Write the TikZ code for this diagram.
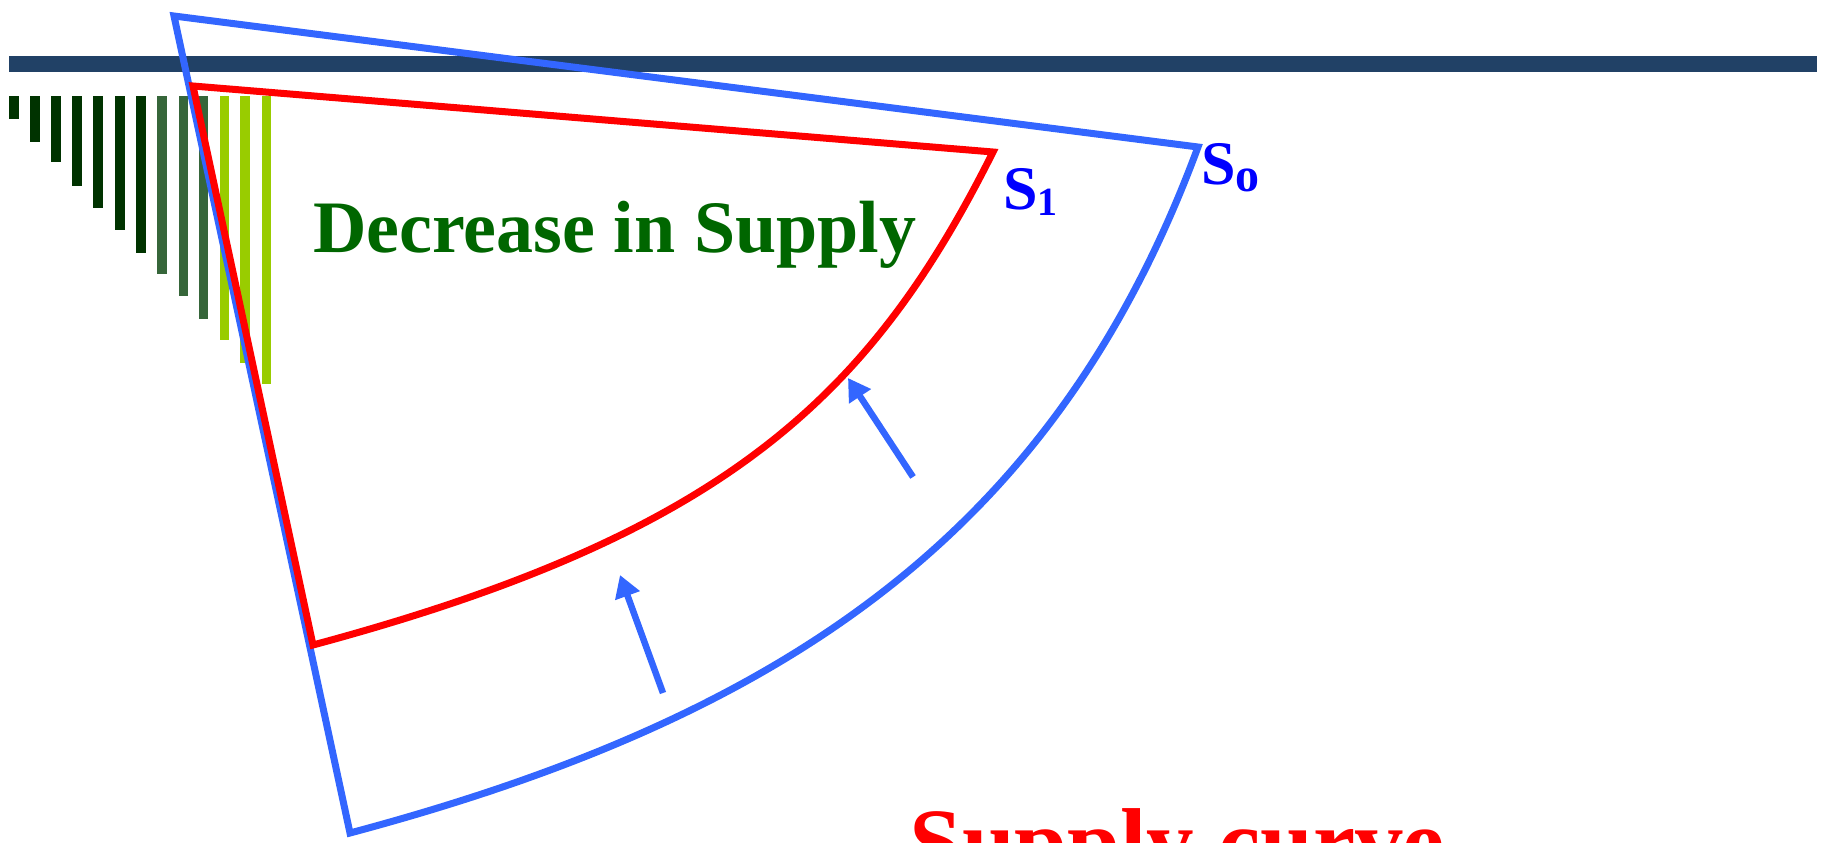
\documentclass[tikz,border=0pt]{standalone}
\usepackage{fontspec}
\setmainfont{Liberation Serif}
\usetikzlibrary{arrows.meta}
\definecolor{barblue}{RGB}{33,65,102}
\definecolor{lineblue}{RGB}{51,102,255}
\definecolor{textgreen}{RGB}{0,102,0}
\definecolor{gdark}{RGB}{0,51,0}
\definecolor{gmid}{RGB}{54,102,58}
\definecolor{glight}{RGB}{153,204,0}

\begin{document}
\begin{tikzpicture}[x=1pt, y=-1pt]
\tikzstyle{s0line}=[draw=lineblue, line width=7pt, line join=miter]
\tikzstyle{s1line}=[draw=red, line width=7pt, line join=miter]
\tikzstyle{shiftarrow}=[lineblue, line width=6.5pt, -{Triangle[length=22pt, width=25pt]}]
\tikzstyle{lbl}=[text=blue, inner sep=0pt, anchor=base west, font=\bfseries\fontsize{62}{62}\selectfont]
\useasboundingbox (0,0) rectangle (1839,843);
\fill[barblue] (9,56) rectangle (1817,72);
% shaded bars
\fill[gdark] (9,96) rectangle (19,119); \fill[gdark] (30,96) rectangle (40,142); \fill[gdark] (51,96) rectangle (61,162); \fill[gdark] (72,96) rectangle (82,186);
\fill[gdark] (93,96) rectangle (103,208); \fill[gdark] (115,96) rectangle (125,230); \fill[gdark] (136,96) rectangle (146,253);
\fill[gmid] (157,96) rectangle (167,274); \fill[gmid] (179,96) rectangle (188,296); \fill[gmid] (199,96) rectangle (208,319);
\fill[glight] (220,96) rectangle (229,340); \fill[glight] (240,96) rectangle (250,363); \fill[glight] (262,96) rectangle (271,384);
% supply curves
\coordinate (s0top) at (174,16); \coordinate (s0end) at (1198,147); \coordinate (s0bot) at (350,833);
\coordinate (s1top) at (193,86); \coordinate (s1end) at (993,152); \coordinate (s1bot) at (313,645);
\draw[s0line] (s0top) -- (s0end) .. controls (1056,531) and (788,716) .. (s0bot) -- cycle;
\draw[s1line] (s1top) -- (s1end) .. controls (869,400) and (722,535) .. (s1bot) -- cycle;
\coordinate (a1tail) at (663,693); \coordinate (a1tip) at (620,575);
\coordinate (a2tail) at (913,477); \coordinate (a2tip) at (848,378);
\draw[shiftarrow] (a1tail) -- (a1tip);
\draw[shiftarrow] (a2tail) -- (a2tip);
\node[lbl] (lbls1) at (1003,209) {S\raisebox{-6pt}{\fontsize{40}{40}\selectfont 1}};
\node[lbl] (lbls0) at (1201,184) {S\raisebox{-7pt}{\fontsize{48}{48}\selectfont o}};
\node[anchor=base west, inner sep=0pt, text=textgreen, font=\bfseries\fontsize{74}{74}\selectfont] (decr) at (313,252) {Decrease in Supply};
\node[anchor=base west, inner sep=0pt, text=red, font=\bfseries\fontsize{95}{95}\selectfont] (title) at (909,874) {Supply curve};
\end{tikzpicture}
\end{document}
